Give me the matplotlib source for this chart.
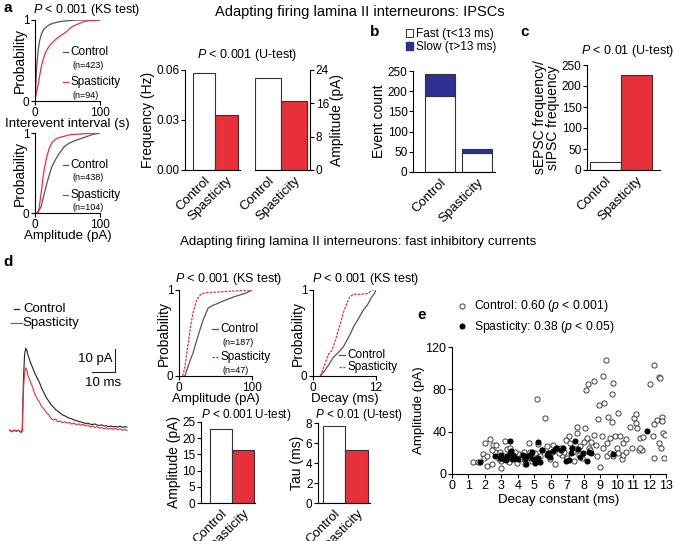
import numpy as np
import matplotlib
matplotlib.use('Agg')
import matplotlib.pyplot as plt
from matplotlib.patches import Patch
from matplotlib.lines import Line2D

plt.rcParams['font.family'] = ['Liberation Sans', 'DejaVu Sans']
plt.rcParams['mathtext.fontset'] = 'custom'
plt.rcParams['mathtext.rm'] = 'Liberation Sans'
plt.rcParams['mathtext.it'] = 'Liberation Sans:italic'
plt.rcParams['axes.linewidth'] = 0.8
plt.rcParams['xtick.major.width'] = 0.8
plt.rcParams['ytick.major.width'] = 0.8
plt.rcParams['xtick.major.size'] = 3
plt.rcParams['ytick.major.size'] = 3
plt.rcParams['xtick.major.pad'] = 1
plt.rcParams['ytick.major.pad'] = 1

groups = ['Control', 'Spasticity']

# a : distributions cumulees
iei_ctrl_x = [0, 1, 2, 3, 5, 7, 10, 14, 18, 23, 28, 38, 49, 64, 100]
iei_ctrl_p = [0, 0.15, 0.33, 0.47, 0.63, 0.74, 0.83, 0.89, 0.92, 0.945, 0.96, 0.98, 0.99, 1.0, 1.0]
iei_spas_x = [0, 1, 3, 5, 8, 10, 13, 15, 19, 23, 28, 33, 38, 44, 49, 54, 60, 69, 75, 82, 100]
iei_spas_p = [0, 0.05, 0.14, 0.21, 0.35, 0.44, 0.52, 0.58, 0.64, 0.69, 0.73, 0.77, 0.8, 0.83,
              0.86, 0.9, 0.93, 0.96, 0.98, 0.99, 1.0]
ampa_ctrl_x = [2.4, 6, 9.5, 13, 17, 21, 26, 31, 36, 45, 52, 60, 74, 88, 100]
ampa_ctrl_p = [0, 0.03, 0.08, 0.2, 0.33, 0.45, 0.58, 0.66, 0.73, 0.83, 0.87, 0.9, 0.94, 0.98, 1.0]
ampa_spas_x = [5, 7, 9.5, 12, 14, 17, 19, 22, 26, 31, 36, 45, 55, 75, 93, 100]
ampa_spas_p = [0, 0.1, 0.25, 0.42, 0.54, 0.66, 0.73, 0.81, 0.88, 0.92, 0.94, 0.96, 0.98, 0.99, 1.0, 1.0]
n_iei = ['(n=423)', '(n=94)']
n_ampa = ['(n=438)', '(n=104)']

freq_vals = [0.058, 0.033]
amp_vals = [22.1, 16.5]

# b : nombre d evenements rapides / lents
fast_counts = [187, 46]
slow_counts = [56, 12]

# c : rapport sEPSC / sIPSC
ratio_vals = [20, 227]

# d : traces moyennes (ms, pA)
trace_t = [2, 3, 4, 5, 6, 7, 7.5, 8, 8.5, 9, 9.5, 10, 11, 12, 13, 14, 15, 16, 17, 18, 19, 20,
           21, 22, 23, 24, 25, 26, 27, 28, 29, 30, 31, 32, 33, 34, 35, 36, 37, 38, 39, 40,
           41, 42, 43, 44, 45, 46, 47, 48, 49, 50, 51, 52, 53]
trace_ctrl = [0.3, -0.2, 0.4, 0, 0.3, -0.5, 0.2, 22, 33, 36, 35, 33, 30, 27.5, 25, 23, 21, 18.5,
              16.5, 14.5, 13, 11.5, 10.5, 9.3, 8.6, 7.8, 7, 6.6, 6, 5.6, 5.3, 4.8, 4.5, 4.2,
              3.9, 3.6, 3.3, 3.4, 3, 2.8, 3.1, 2.6, 2.4, 2.7, 2.2, 2.3, 1.9, 2.2, 1.8, 2, 1.7,
              2.1, 1.6, 1.9, 1.7]
trace_spas = [0.5, -0.4, 0.3, -0.2, 0.4, -0.8, 0, 18, 25, 27.5, 26.5, 24, 21.5, 19, 16, 14,
              12.5, 10.5, 9.5, 8, 7, 5.5, 4.8, 5.2, 4, 4.4, 3.6, 4.1, 3.4, 3.8, 3, 3.5, 2.7,
              3.1, 2.5, 2.9, 2.2, 2.6, 1.8, 2.3, 1.5, 1.9, 1.2, 1.6, 0.9, 1.4, 0.8, 1.3, 0.7,
              1.2, 0.5, 1, 0.3, 0.8, 0.2]

ampd_ctrl_x = [8, 12, 16, 19, 23, 28, 33, 40, 46, 52, 60, 75, 90, 98, 100]
ampd_ctrl_p = [0, 0.1, 0.2, 0.26, 0.38, 0.52, 0.65, 0.79, 0.82, 0.84, 0.87, 0.92, 0.96, 0.99, 1]
ampd_spas_x = [5, 8, 12, 16, 19, 22, 24, 28, 31, 40, 60, 80, 100]
ampd_spas_p = [0, 0.1, 0.35, 0.58, 0.73, 0.82, 0.88, 0.93, 0.96, 0.97, 0.98, 0.99, 1]
dec_ctrl_x = [1.4, 2.2, 3.0, 3.9, 4.8, 5.8, 6.5, 7.2, 7.7, 8.5, 9.6, 10.4, 11.2, 11.6, 12]
dec_ctrl_p = [0, 0.06, 0.13, 0.22, 0.27, 0.34, 0.42, 0.5, 0.57, 0.65, 0.77, 0.83, 0.92, 0.95, 1]
dec_spas_x = [1.4, 2.2, 3.0, 3.6, 4.2, 5.2, 5.8, 6.4, 7.0, 7.7, 9.0, 10.5, 11.2, 12]
dec_spas_p = [0, 0.13, 0.26, 0.3, 0.4, 0.61, 0.74, 0.84, 0.92, 0.95, 0.95, 0.96, 1, 1]
n_ampd = ['(n=187)', '(n=47)']

ampd_vals = [22.9, 16.4]
tau_vals = [7.7, 5.3]

# e : amplitude vs constante de decroissance
e_ctrl_x = [1.3, 1.55, 1.9, 1.95, 2.0, 2.1, 2.3, 2.1, 2.4, 2.5, 2.7, 2.6, 2.9, 3.0, 3.0, 3.25,
            3.35, 3.55, 3.55, 3.75, 3.95, 4.05, 4.25, 4.35, 4.55, 4.7, 4.75, 4.95, 5.15, 5.25,
            5.35, 5.65, 5.75, 5.85, 5.95, 6.25, 6.4, 6.6, 6.7, 6.9, 7.1, 7.15, 7.3, 7.4, 7.55,
            7.6, 7.6, 7.7, 8.0, 8.1, 8.15, 8.25, 8.2, 8.3, 8.4, 8.6, 8.65, 8.75, 8.85, 8.9,
            9.0, 9.1, 9.15, 9.25, 9.35, 9.4, 9.5, 9.6, 9.7, 9.75, 9.8, 9.8, 9.9, 10.0, 10.1,
            10.2, 10.3, 10.4, 10.55, 10.8, 10.95, 11.05, 11.15, 11.15, 11.25, 11.35, 11.45,
            11.55, 11.6, 12.0, 12.2, 12.25, 12.3, 12.25, 12.45, 12.55, 12.6, 12.7, 12.75,
            12.8, 12.9, 12.95, 12.65, 12.75, 2.45, 2.85, 3.15, 3.45, 3.85, 4.15, 4.45, 4.85,
            5.05, 5.45, 6.05, 6.15, 6.5, 6.8, 7.0, 7.35, 7.8, 7.9, 8.45, 8.8, 9.2, 9.4, 9.6,
            10.1, 10.4, 10.6, 11.4]
e_ctrl_y = [11, 11, 19, 15, 29, 17, 33, 8, 9, 27, 27, 21, 21, 12, 6, 31, 24, 25, 16, 14, 10,
            19, 18, 21, 15, 29, 21, 18, 71, 28, 17, 53, 26, 20, 14, 9, 25, 25, 18, 32, 36, 29,
            25, 12, 24, 44, 39, 18, 30, 43, 79, 85, 34, 25, 23, 37, 88, 27, 52, 65, 7, 36, 93,
            67, 108, 17, 54, 34, 76, 49, 17, 86, 36, 25, 58, 36, 14, 29, 33, 44, 25, 53, 57,
            48, 43, 23, 34, 23, 35, 85, 36, 47, 103, 15, 51, 29, 92, 25, 54, 39, 15, 37, 91,
            50, 23, 14, 17, 11, 21, 14, 9, 12, 20, 23, 21, 27, 20, 21, 15, 21, 26, 15, 30,
            17, 25, 29, 20, 20, 18, 21, 25]
e_spas_x = [1.7, 2.6, 2.9, 3.0, 3.15, 3.3, 3.35, 3.5, 3.55, 3.6, 3.65, 3.7, 3.8, 4.0, 4.3,
            4.45, 4.5, 4.6, 4.75, 4.85, 4.95, 5.05, 5.15, 5.2, 5.25, 5.35, 5.45, 5.75, 5.85,
            5.95, 6.15, 6.3, 6.6, 6.75, 6.95, 7.1, 7.2, 7.3, 7.5, 7.65, 7.8, 7.95, 8.2, 8.3,
            8.45, 9.8, 11.85]
e_spas_y = [11, 17, 15, 18, 14, 13, 17, 31, 20, 22, 14, 18, 15, 14, 18, 14, 9, 17, 18, 21,
            14, 10, 12, 30, 15, 11, 23, 18, 20, 16, 22, 25, 23, 25, 12, 13, 20, 25, 31, 24,
            16, 20, 12, 21, 20, 19, 41]

W, H = 675, 541
fig = plt.figure(figsize=(W / 100, H / 100), dpi=100)
grey = '#555555'
red = '#e8303a'
blue = '#2e3192'


def px_axes(l, t, r, b):
    return fig.add_axes([l / W, 1 - b / H, (r - l) / W, (b - t) / H])


def clean(ax, right=False):
    ax.spines['top'].set_visible(False)
    if right:
        ax.spines['left'].set_visible(False)
    else:
        ax.spines['right'].set_visible(False)
    ax.tick_params(labelsize=8.5)


def key(ax, x, y, color, text, ls='-', size=8.5):
    # petit trait de legende + texte
    ax.plot([x, x + 0.08], [y, y], color=color, lw=0.9, ls=ls, transform=ax.transAxes,
            clip_on=False)
    ax.text(x + 0.12, y, text, transform=ax.transAxes, fontsize=size, va='center')


def sub(ax, x, y, text):
    ax.text(x, y, text, transform=ax.transAxes, fontsize=6.5, va='center')


def cdf_axes(ax, xmax, xlabel):
    clean(ax)
    ax.set_xlim(0, xmax)
    ax.set_ylim(0, 1)
    ax.set_xticks([0, xmax])
    ax.set_yticks([0, 1])
    ax.set_ylabel('Probability', fontsize=10, labelpad=-3)
    ax.set_xlabel(xlabel, fontsize=9.5, labelpad=-0.5)


def bar_axes(ax, vals, lim, ticks, labels, ylabel, right=False):
    clean(ax, right)
    ax.bar([0, 1], vals, width=1, color=['white', red], edgecolor='#333333', lw=0.8)
    ax.set_ylim(*lim)
    ax.set_yticks(ticks)
    ax.set_yticklabels(labels)
    ax.set_xticks([0, 1])
    ax.set_xticklabels(groups, rotation=45, ha='right', rotation_mode='anchor', fontsize=9.5)
    ax.tick_params(axis='x', length=0, pad=3)
    ax.set_ylabel(ylabel, fontsize=10, labelpad=1)
    if right:
        ax.yaxis.tick_right()
        ax.yaxis.set_label_position('right')


# titres
fig.text(360 / W, 1 - 12 / H, 'Adapting firing lamina II interneurons: IPSCs', ha='center',
         va='center', fontsize=10.5)
fig.text(358 / W, 1 - 242 / H, 'Adapting firing lamina II interneurons: fast inhibitory currents',
         ha='center', va='center', fontsize=9.6)
for lab, x, y in [('a', 8, 8), ('b', 375, 32), ('c', 525, 32), ('d', 8, 262), ('e', 422, 315)]:
    fig.text(x / W, 1 - y / H, lab, fontsize=11, fontweight='bold', ha='center', va='center')

# a : CDF intervalle
ax = px_axes(35, 20, 100, 101)
ax.plot(iei_ctrl_x, iei_ctrl_p, color=grey, lw=0.9)
ax.plot(iei_spas_x, iei_spas_p, color=red, lw=0.9)
cdf_axes(ax, 100, 'Interevent interval (s)')
ax.text(0.8, 1.02, r'$\it{P}$ < 0.001 (KS test)', transform=ax.transAxes, ha='center',
        va='bottom', fontsize=9)
key(ax, 0.43, 0.6, grey, 'Control')
sub(ax, 0.57, 0.44, n_iei[0])
key(ax, 0.43, 0.23, red, 'Spasticity')
sub(ax, 0.57, 0.07, n_iei[1])

# a : CDF amplitude
ax = px_axes(35, 133, 100, 213)
ax.plot(ampa_ctrl_x, ampa_ctrl_p, color=grey, lw=0.9)
ax.plot(ampa_spas_x, ampa_spas_p, color=red, lw=0.9)
cdf_axes(ax, 100, 'Amplitude (pA)')
key(ax, 0.43, 0.6, grey, 'Control')
sub(ax, 0.57, 0.44, n_ampa[0])
key(ax, 0.43, 0.23, red, 'Spasticity')
sub(ax, 0.57, 0.07, n_ampa[1])

# a : barres frequence / amplitude
ax = px_axes(185, 70, 240, 170)
bar_axes(ax, freq_vals, (0, 0.06), [0, 0.03, 0.06], ['0.00', '0.03', '0.06'], 'Frequency (Hz)')
ax.set_xlim(-0.85, 1.6)
ax = px_axes(255, 70, 310, 170)
bar_axes(ax, amp_vals, (0, 24), [0, 8, 16, 24], ['0', '8', '16', '24'], 'Amplitude (pA)',
         right=True)
ax.set_xlim(-0.5, 1.62)
fig.text(247 / W, 1 - 55 / H, r'$\it{P}$ < 0.001 (U-test)', ha='center', va='center',
         fontsize=9)

# b : barres empilees
ax = px_axes(413, 71, 495, 172)
clean(ax)
ax.bar([0, 1], fast_counts, width=0.81, color='white', edgecolor='#333333', lw=0.8)
ax.bar([0, 1], slow_counts, width=0.81, bottom=fast_counts, color=blue, edgecolor='#333333',
       lw=0.8)
ax.set_xlim(-0.73, 1.49)
ax.set_ylim(0, 250)
ax.set_yticks([0, 50, 100, 150, 200, 250])
ax.set_xticks([0, 1])
ax.set_xticklabels(groups, rotation=45, ha='right', rotation_mode='anchor', fontsize=9.5)
ax.tick_params(axis='x', length=0, pad=3)
ax.set_ylabel('Event count', fontsize=10, labelpad=1)
ax.legend(handles=[Patch(fc='white', ec='#333333', lw=0.7), Patch(fc=blue, ec=blue)],
          labels=['Fast (\u03c4<13 ms)', 'Slow (\u03c4>13 ms)'], loc='lower left',
          bbox_to_anchor=(-0.16, 1.12), frameon=False, fontsize=8.5, handlelength=0.6,
          handleheight=0.6, handletextpad=0.3, labelspacing=0.05, borderpad=0)

# c : rapport
ax = px_axes(587, 65, 660, 170)
bar_axes(ax, ratio_vals, (0, 250), [0, 50, 100, 150, 200, 250],
         ['0', '50', '100', '150', '200', '250'], 'sEPSC frequency/\nsIPSC frequency')
ax.yaxis.label.set_linespacing(0.95)
ax.set_xlim(-0.6, 1.76)
ax.text(0.55, 1.06, r'$\it{P}$ < 0.01 (U-test)', transform=ax.transAxes, ha='center',
        va='bottom', fontsize=9)

# d : traces
ax = px_axes(5, 330, 135, 440)
ax.axis('off')
ax.plot(trace_t, trace_ctrl, color='#222222', lw=0.8)
ax.plot(trace_t, trace_spas, color=red, lw=0.8)
ax.set_xlim(0, 56.5)
ax.set_ylim(-3.9, 43.9)
ax.plot([37.8, 47.8, 47.8], [25.7, 25.7, 35.7], color='#222222', lw=0.8)
ax.text(46.8, 31.5, '10 pA', ha='right', va='center', fontsize=9.5)
ax.text(42.8, 20.8, '10 ms', ha='center', va='center', fontsize=9.5)
fig.lines.append(Line2D([14 / W, 19 / W], [1 - 309 / H] * 2, color='#222222', lw=0.9,
                        transform=fig.transFigure))
fig.text(23 / W, 1 - 309 / H, 'Control', va='center', fontsize=9.5)
fig.lines.append(Line2D([11 / W, 22 / W], [1 - 323 / H] * 2, color=red, lw=0.9,
                        transform=fig.transFigure))
fig.text(22 / W, 1 - 323 / H, 'Spasticity', va='center', fontsize=9.5)

# d : CDF amplitude
ax = px_axes(179, 290, 252, 376)
ax.plot(ampd_ctrl_x, ampd_ctrl_p, color=grey, lw=0.9)
ax.plot(ampd_spas_x, ampd_spas_p, color=red, lw=0.9, ls=(0, (2, 1)))
cdf_axes(ax, 100, 'Amplitude (pA)')
ax.text(0.68, 1.04, r'$\it{P}$ < 0.001 (KS test)', transform=ax.transAxes, ha='center',
        va='bottom', fontsize=9)
key(ax, 0.45, 0.55, grey, 'Control')
sub(ax, 0.6, 0.39, n_ampd[0])
key(ax, 0.45, 0.22, red, 'Spasticity', ls=(0, (2, 1)))
sub(ax, 0.6, 0.06, n_ampd[1])

# d : CDF decay
ax = px_axes(313, 290, 376, 376)
ax.plot(dec_ctrl_x, dec_ctrl_p, color=grey, lw=0.9)
ax.plot(dec_spas_x, dec_spas_p, color=red, lw=0.9, ls=(0, (2, 1)))
cdf_axes(ax, 12, 'Decay (ms)')
ax.text(0.84, 1.04, r'$\it{P}$ < 0.001 (KS test)', transform=ax.transAxes, ha='center',
        va='bottom', fontsize=9)
key(ax, 0.42, 0.25, grey, 'Control')
key(ax, 0.42, 0.11, red, 'Spasticity', ls=(0, (2, 1)))

# d : barres amplitude / tau
ax = px_axes(201, 422, 255, 503)
bar_axes(ax, ampd_vals, (0, 25), [0, 5, 10, 15, 20, 25], ['0', '5', '10', '15', '20', '25'],
         'Amplitude (pA)')
ax.set_xlim(-0.91, 1.55)
fig.text(246 / W, 1 - 415 / H, r'$\it{P}$ < 0.001 U-test)', ha='center', va='center',
         fontsize=8.5)
ax = px_axes(318, 423, 370, 503)
bar_axes(ax, tau_vals, (0, 8), [0, 2, 4, 6, 8], ['0', '2', '4', '6', '8'], 'Tau (ms)')
ax.set_xlim(-0.72, 1.59)
fig.text(359 / W, 1 - 415 / H, r'$\it{P}$ < 0.01 (U-test)', ha='center', va='center',
         fontsize=8.5)

# e : nuage de points
ax = px_axes(452, 347, 666, 474)
clean(ax)
ax.scatter(e_ctrl_x, e_ctrl_y, s=14, facecolors='white', edgecolors='#222222', lw=0.6,
           label=r'Control: 0.60 ($\it{p}$ < 0.001)', zorder=2)
ax.scatter(e_spas_x, e_spas_y, s=14, facecolors='black', edgecolors='black', lw=0.6,
           label=r'Spasticity: 0.38 ($\it{p}$ < 0.05)', zorder=3)
ax.set_xlim(0, 13)
ax.set_ylim(0, 120)
ax.set_xticks(range(14))
ax.set_yticks([0, 40, 80, 120])
ax.tick_params(labelsize=9)
ax.set_xlabel('Decay constant (ms)', fontsize=9.5, labelpad=2)
ax.set_ylabel('Amplitude (pA)', fontsize=9.5, labelpad=0)
ax.legend(loc='lower left', bbox_to_anchor=(-0.04, 1.05), frameon=False, fontsize=8.8,
          handletextpad=0.0, labelspacing=0.35, borderpad=0, markerscale=1.0)

fig.savefig('out.png', dpi=100)
